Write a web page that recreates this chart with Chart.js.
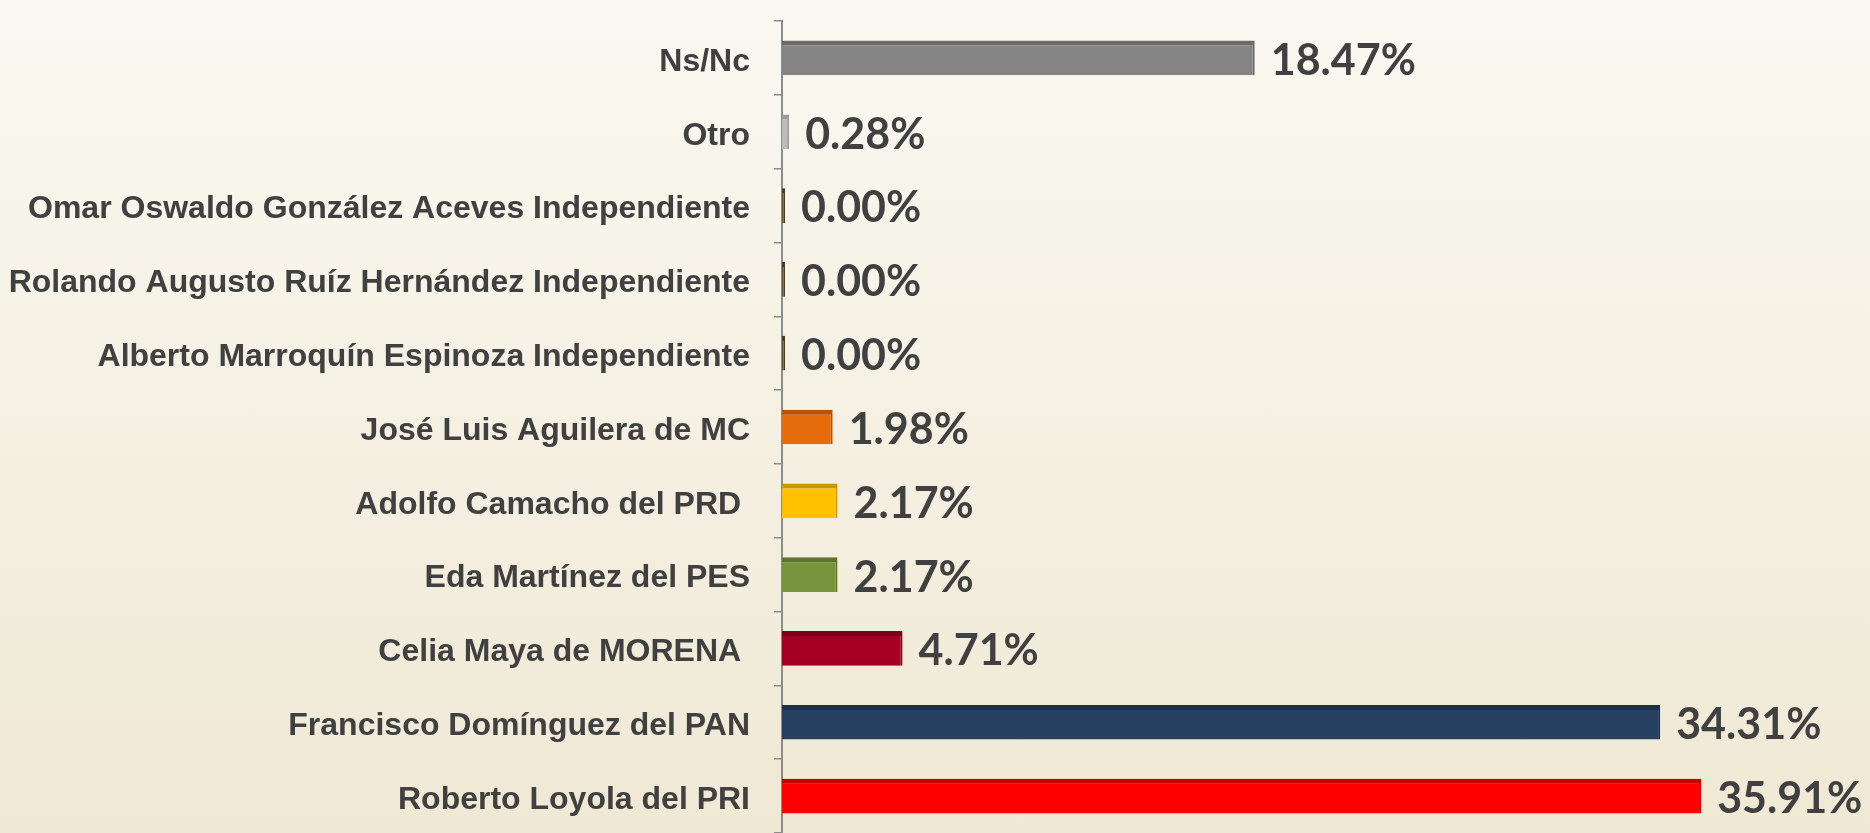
<!DOCTYPE html>
<html>
<head>
<meta charset="utf-8">
<script src="https://cdn.jsdelivr.net/npm/chart.js@4"></script>
<style>
  html, body { margin: 0; padding: 0; }
  body {
    width: 1870px; height: 833px; overflow: hidden;
    background: linear-gradient(to bottom, #faf8f1 0%, #f5f1e4 45%, #efe8d4 100%);
  }
  canvas { display: block; }
</style>
</head>
<body>
<canvas id="chart" width="1870" height="833"></canvas>
<script>
// data, top to bottom
const candidates = [
  'Ns/Nc',
  'Otro',
  'Omar Oswaldo González Aceves Independiente',
  'Rolando Augusto Ruíz Hernández Independiente',
  'Alberto Marroquín Espinoza Independiente',
  'José Luis Aguilera de MC',
  'Adolfo Camacho del PRD ',
  'Eda Martínez del PES',
  'Celia Maya de MORENA ',
  'Francisco Domínguez del PAN',
  'Roberto Loyola del PRI'
]
const percentages = [18.47, 0.28, 0.00, 0.00, 0.00, 1.98, 2.17, 2.17, 4.71, 34.31, 35.91]

const barColors = ['#858585', '#bcbcbc', '#5e5432', '#5e5432', '#5e5432', '#e46c0a', '#ffc000', '#77933c', '#a50021', '#254061', '#ff0000']
const edgeColors = ['#6a6a6a', '#9c9c9c', '#463e24', '#463e24', '#463e24', '#b55308', '#c99700', '#5c732e', '#7c0018', '#1c3049', '#c00000']

// percent labels at the end of every bar
const valueLabels = {
  id: 'valueLabels',
  afterDatasetsDraw(chart) {
    const ctx = chart.ctx
    const meta = chart.getDatasetMeta(0)
    ctx.save()
    ctx.font = "bold 43px Lato, 'Open Sans', sans-serif"
    ctx.fillStyle = '#404040'
    ctx.textAlign = 'left'
    ctx.textBaseline = 'middle'
    meta.data.forEach((bar, i) => {
      ctx.fillText(percentages[i].toFixed(2) + '%', bar.x + 16, bar.y + 3)
    })
    ctx.restore()
  }
}

function drawChart() {
  const config = {
    type: 'bar',
    data: {
      labels: candidates,
      datasets: [{
        data: percentages,
        backgroundColor: barColors,
        borderColor: edgeColors,
        borderWidth: {top: 5, right: 2, bottom: 0, left: 0},
        borderSkipped: false,
        barPercentage: 0.94,
        categoryPercentage: 0.5,
        minBarLength: 3
      }]
    },
    options: {
      indexAxis: 'y',
      responsive: false,
      animation: false,
      layout: {padding: {top: 21, right: 13, bottom: 0, left: 0}},
      plugins: {
        legend: {display: false},
        tooltip: {enabled: false}
      },
      scales: {
        x: {
          display: false,
          min: 0,
          max: 42
        },
        y: {
          afterFit(axis) {
            axis.width = 782
            axis.paddingTop = 0
            axis.paddingBottom = 0
          },
          grid: {
            display: true,
            drawOnChartArea: false,
            drawTicks: true,
            tickLength: 8,
            offset: true,
            color: '#8c8c8c',
            lineWidth: 1.5
          },
          border: {display: true, color: '#8c8c8c', width: 2},
          ticks: {
            padding: 24,
            labelOffset: 4,
            color: '#404040',
            font: {family: "'Liberation Sans', Arial, sans-serif", size: 32, weight: 'bold'}
          }
        }
      }
    },
    plugins: [valueLabels]
  }
  new Chart(document.getElementById('chart'), config)
}

document.fonts.load("bold 43px Lato").then(drawChart, drawChart)
</script>
</body>
</html>
